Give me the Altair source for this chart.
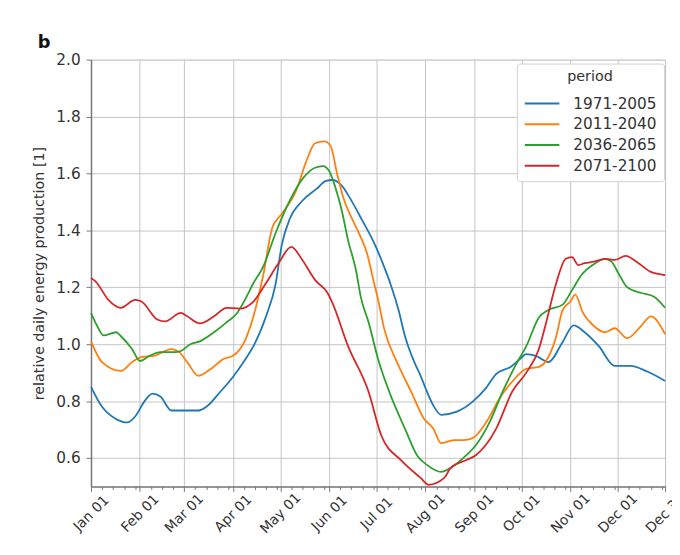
import altair as alt
import pandas as pd

periods = ["1971-2005", "2011-2040", "2036-2065", "2071-2100"]
colors = ["#1f77b4", "#ff7f0e", "#2ca02c", "#d62728"]

# day of year (0 = Jan 01) and relative daily energy production
blue_day = [0, 7, 15, 23, 28, 34, 39, 44, 51, 57, 68, 74, 82, 90, 98, 103, 111, 117, 121, 126, 134, 143, 149, 153, 159, 164, 172, 180, 186, 190, 195, 199, 205, 209, 213, 217, 222, 232, 242, 250, 257, 266, 272, 276, 282, 290, 299, 306, 313, 322, 332, 342, 353, 364]
blue_val = [0.85, 0.78, 0.74, 0.725, 0.746, 0.80, 0.826, 0.816, 0.767, 0.767, 0.767, 0.784, 0.833, 0.885, 0.948, 0.993, 1.098, 1.21, 1.35, 1.44, 1.504, 1.546, 1.574, 1.577, 1.557, 1.515, 1.435, 1.35, 1.27, 1.21, 1.12, 1.03, 0.937, 0.889, 0.833, 0.785, 0.752, 0.763, 0.798, 0.843, 0.896, 0.92, 0.948, 0.965, 0.959, 0.937, 1.007, 1.066, 1.042, 0.993, 0.924, 0.924, 0.903, 0.871]

orange_day = [0, 7, 19, 26, 32, 40, 51, 56, 61, 68, 76, 84, 90, 98, 103, 109, 115, 121, 130, 137, 142, 148, 152, 156, 160, 166, 171, 175, 179, 182, 186, 194, 203, 211, 217, 222, 230, 236, 242, 251, 259, 267, 276, 284, 288, 295, 299, 304, 307, 312, 319, 326, 332, 340, 348, 355, 364]
orange_val = [1.01, 0.937, 0.906, 0.937, 0.955, 0.959, 0.983, 0.972, 0.937, 0.889, 0.913, 0.948, 0.959, 1.017, 1.098, 1.237, 1.41, 1.458, 1.539, 1.65, 1.706, 1.713, 1.696, 1.60, 1.515, 1.435, 1.376, 1.32, 1.226, 1.157, 1.052, 0.937, 0.833, 0.739, 0.704, 0.652, 0.663, 0.663, 0.67, 0.729, 0.809, 0.868, 0.913, 0.92, 0.937, 1.028, 1.12, 1.15, 1.174, 1.11, 1.063, 1.042, 1.056, 1.021, 1.059, 1.098, 1.035]

green_day = [0, 4, 8, 16, 19, 26, 31, 37, 44, 53, 57, 63, 69, 78, 86, 92, 98, 103, 109, 117, 126, 134, 142, 147, 151, 155, 159, 163, 168, 171, 176, 182, 190, 199, 207, 213, 222, 228, 238, 244, 253, 261, 269, 276, 284, 290, 299, 305, 311, 318, 326, 330, 335, 340, 349, 357, 364]
green_val = [1.11, 1.063, 1.031, 1.042, 1.028, 0.983, 0.941, 0.959, 0.972, 0.972, 0.976, 1.0, 1.01, 1.042, 1.077, 1.105, 1.16, 1.215, 1.27, 1.39, 1.504, 1.58, 1.62, 1.626, 1.609, 1.55, 1.47, 1.365, 1.26, 1.167, 1.077, 0.948, 0.82, 0.704, 0.607, 0.576, 0.551, 0.565, 0.61, 0.645, 0.729, 0.833, 0.924, 0.993, 1.094, 1.12, 1.139, 1.19, 1.243, 1.278, 1.30, 1.29, 1.243, 1.20, 1.18, 1.167, 1.128]

red_day = [0, 3, 11, 19, 28, 32, 42, 47, 57, 61, 69, 78, 86, 94, 103, 111, 119, 127, 134, 142, 150, 153, 163, 176, 184, 197, 209, 214, 224, 228, 238, 244, 257, 267, 276, 284, 288, 295, 301, 305, 309, 313, 319, 326, 332, 339, 347, 355, 364]
red_val = [1.233, 1.22, 1.156, 1.128, 1.156, 1.15, 1.087, 1.08, 1.11, 1.098, 1.073, 1.098, 1.128, 1.125, 1.15, 1.215, 1.285, 1.342, 1.296, 1.226, 1.18, 1.146, 0.993, 0.833, 0.68, 0.59, 0.53, 0.506, 0.53, 0.565, 0.593, 0.61, 0.704, 0.833, 0.90, 0.983, 1.063, 1.215, 1.30, 1.306, 1.278, 1.285, 1.29, 1.30, 1.296, 1.31, 1.285, 1.254, 1.243]

y_ticks = [0.6, 0.8, 1.0, 1.2, 1.4, 1.6, 1.8, 2.0]

base = pd.Timestamp("2001-01-01")


def to_date(d):
    return (base + pd.Timedelta(days=d)).strftime("%Y-%m-%dT%H:%M:%S")


rows = []
for p, days, vals in zip(periods, [blue_day, orange_day, green_day, red_day],
                         [blue_val, orange_val, green_val, red_val]):
    for d, v in zip(days, vals):
        rows.append({"date": to_date(d), "value": v, "period": p})
df = pd.DataFrame(rows)

major = [alt.DateTime(year=2001, month=m, date=1) for m in range(1, 13)] + [alt.DateTime(year=2001, month=12, date=31)]
minor = []
for m in range(1, 13):
    for dd in [8, 15, 22, 29]:
        if m == 2 and dd == 29:
            continue
        minor.append(alt.DateTime(year=2001, month=m, date=dd))

x_scale = alt.Scale(domain=[alt.DateTime(year=2001, month=1, date=1),
                            alt.DateTime(year=2001, month=12, date=31)])

lines = alt.Chart(df).mark_line(strokeWidth=1.8, interpolate="monotone").encode(
    x=alt.X("date:T", scale=x_scale,
            axis=alt.Axis(values=major, format="%b %d", title=None, labelAngle=315,
                          labelAlign="center", labelBaseline="middle", labelPadding=22,
                          tickSize=5, labelFontSize=14, labelColor="#333",
                          gridColor="#c4c4c4", gridWidth=1, domainColor="#777",
                          domainWidth=1.5, tickColor="#777", orient="bottom")),
    y=alt.Y("value:Q", scale=alt.Scale(domain=[0.5, 2.0], nice=False, zero=False),
            axis=alt.Axis(values=y_ticks, format=".1f",
                          title="relative daily energy production [1]",
                          titleFontSize=14.5, titleFontWeight="normal", titleColor="#333",
                          titlePadding=9, labelFontSize=15.5, labelColor="#333",
                          labelPadding=6, tickSize=5, tickColor="#777",
                          gridColor="#c4c4c4", gridWidth=1, domainColor="#777",
                          domainWidth=1.5)),
    color=alt.Color("period:N", scale=alt.Scale(domain=periods, range=colors),
                    legend=alt.Legend(title="period", orient="none", legendX=431, legendY=4,
                                      titleAnchor="middle", titleFontSize=14.5,
                                      titleFontWeight="normal", titleColor="#333",
                                      titlePadding=8,
                                      labelFontSize=15.5, labelColor="#333",
                                      symbolType="M-1,0H2.5", symbolSize=400,
                                      symbolStrokeWidth=2, labelOffset=28,
                                      rowPadding=1, padding=7,
                                      strokeColor="#d0d0d0", fillColor="white",
                                      cornerRadius=3)),
)

minor_layer = alt.Chart(df).mark_line(opacity=0).encode(
    x=alt.X("date:T", scale=x_scale,
            axis=alt.Axis(values=minor, labels=False, grid=False, domain=False,
                          tickSize=3, tickColor="#777", title=None, orient="bottom")),
    y=alt.Y("value:Q"),
)

chart = alt.layer(lines, minor_layer).resolve_scale(x="shared").resolve_axis(x="independent").properties(
    width=581, height=432,
    autosize=alt.AutoSizeParams(type="none"),
    padding={"left": 84, "top": 49, "right": 7, "bottom": 58},
    title=alt.TitleParams("b", anchor="start", frame="group", dx=-54, offset=1,
                          fontSize=18, fontWeight="bold", color="#111"),
).configure_view(stroke="#999", strokeWidth=2).configure(font="DejaVu Sans")

chart.save("out.html", embed_options={"renderer": "svg", "actions": False})
